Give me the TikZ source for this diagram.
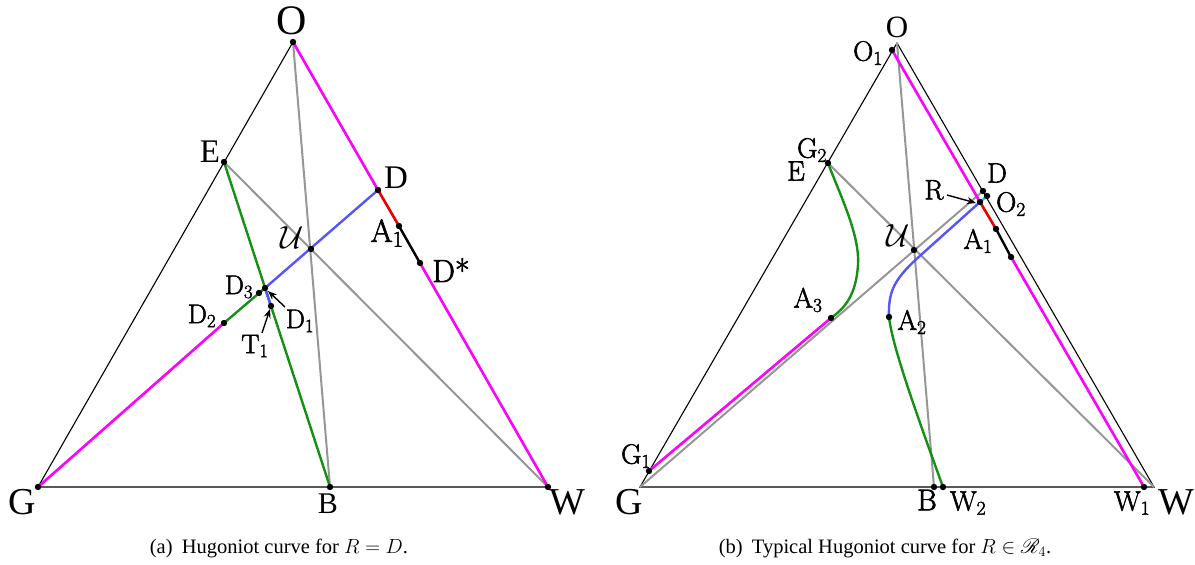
\RequirePackage{fix-cm}
\documentclass[tikz,border=0pt]{standalone}
\usepackage{amsmath,amssymb,mathrsfs}
\usepackage{fontspec}
\newfontfamily\capfont{Liberation Serif}
\newfontfamily\tmfont{Liberation Serif}
\newfontfamily\lblfont{Latin Modern Roman}[FakeBold=2]
\usetikzlibrary{arrows.meta}
\definecolor{cmag}{RGB}{255,0,255}
\definecolor{cred}{RGB}{235,0,0}
\definecolor{cblue}{RGB}{85,85,255}
\definecolor{cgreen}{RGB}{20,145,20}
\definecolor{cgray}{RGB}{150,150,150}
\definecolor{ccyan}{RGB}{0,215,225}
\tikzset{
  tri/.style={black, line width=1.1pt},
  gl/.style={cgray, line width=2pt},
  mg/.style={cmag, line width=2.6pt},
  rd/.style={cred, line width=2.6pt},
  bl/.style={cblue, line width=2.4pt},
  gn/.style={cgreen, line width=2.4pt},
  cy/.style={ccyan, line width=2.4pt},
  bk/.style={black, line width=2.4pt},
  ptr/.style={black, line width=1.4pt, -{Stealth[length=9pt,width=7pt]}},
  tbig/.style={font=\tmfont\fontsize{38}{38}\selectfont},
  tmid/.style={font=\tmfont\fontsize{33}{33}\selectfont},
  mid/.style={font=\lblfont\fontsize{32}{32}\selectfont},
  sml/.style={font=\lblfont\fontsize{27}{27}\selectfont},
  rl/.style={font=\lblfont\fontsize{28}{28}\selectfont},
  captext/.style={font=\capfont\fontsize{20.5}{22}\selectfont},
}
\newcommand{\dotat}[1]{\fill (#1) circle (3.2pt);}
\newcommand{\sbs}[1]{\textsubscript{#1}}
\begin{document}
\begin{tikzpicture}[x=1pt,y=-1pt]
\useasboundingbox (0,0) rectangle (1195,565);
% ================= left =================
\coordinate (LO) at (293,42);
\coordinate (LG) at (38,487);
\coordinate (LW) at (548,487);
\coordinate (LB) at (330,487);
\coordinate (LE) at (224,162);
\coordinate (LD) at (378,190);
\coordinate (LU) at (311,249);
\coordinate (LA1) at (399,226);
\coordinate (LDs) at (420,263);
\coordinate (LD3) at (259,293);
\coordinate (LD1) at (265,288);
\coordinate (LT1) at (271,306);
\coordinate (LD2) at (224,323);
\draw[tri] (LO) -- (LG) -- (LW) -- cycle;
\draw[gl] (LO) -- (LB);
\draw[gl] (LE) -- (LW);
\draw[gn] (LE) -- (LB);
\draw[gn] (LD2) -- (LD1);
\draw[mg] (LO) -- (LD);
\draw[mg] (LDs) -- (LW);
\draw[mg] (LG) -- (LD2);
\draw[rd] (LD) -- (LA1);
\draw[bk] (LA1) -- (LDs);
\draw[bl] (LD) -- (LD1);
\draw[bl] (LD1) -- (LT1);
\foreach \p in {LO,LG,LW,LB,LE,LD,LU,LA1,LDs,LD3,LD1,LT1,LD2} {\dotat{\p}}
\node[tbig, font=\tmfont\fontsize{42}{42}\selectfont] (tLO) at (292,21) {O};
\node[tbig] (tLG) at (22,502) {G};
\node[tbig] (tLW) at (567,502) {W};
\node[tmid, font=\tmfont\fontsize{30}{30}\selectfont] (tLB) at (328,504) {B};
\node[tmid] (tLE) at (210,152) {E};
\node[tmid] (tLD) at (396,178) {D};
\node[mid] (tLU) at (292,238) {$\mathcal{U}$};
\node[mid] (tLA1) at (387,233) {A\sbs{1}};
\node[mid] (tLDs) at (451,270) {D*};
\node[sml] (tLD3) at (239,287) {D\sbs{3}};
\node[sml] (tLD2) at (202,316) {D\sbs{2}};
\node[sml] (tLD1) at (300,321) {D\sbs{1}};
\node[sml] (tLT1) at (255,346) {T\sbs{1}};
\coordinate (aD1s) at (285,307);
\coordinate (aD1e) at (268,291);
\coordinate (aT1s) at (262,333);
\coordinate (aT1e) at (270,309);
\draw[ptr] (aD1s) -- (aD1e);
\draw[ptr] (aT1s) -- (aT1e);
\node[captext] (capa) at (279,548) {(a)\hspace{0.45em}Hugoniot curve for $R=D$.};
% ================= right =================
\coordinate (RO) at (897,43);
\coordinate (RG) at (640,487);
\coordinate (RW) at (1154,487);
\coordinate (RB) at (934,487);
\coordinate (RE) at (828,163);
\coordinate (RD) at (983,191);
\coordinate (RU) at (914,250);
\coordinate (RO1) at (892,50);
\coordinate (RO2) at (987,196);
\coordinate (RR) at (980,202);
\coordinate (RA1) at (996,229);
\coordinate (RX) at (1011,257);
\coordinate (RW1) at (1144,487);
\coordinate (RW2) at (943,487);
\coordinate (RG1) at (649,471);
\coordinate (RA3) at (831,318);
\coordinate (RA2) at (889,317);
\draw[tri] (RO) -- (RG) -- (RW) -- cycle;
\draw[gl] (RO) -- (RB);
\draw[gl] (RE) -- (RW);
\draw[gl] (RG) -- (RD);
\draw[mg] (RO1) -- (RR);
\draw[mg] (RX) -- (RW1);
\draw[mg] (RG1) -- (RA3);
\draw[rd] (RR) -- (RA1);
\draw[bk] (RA1) -- (RX);
\draw[cy] (RR) -- (RO2);
\draw[gn] (RE) .. controls (840,195) and (860,235) .. (858,265)
               .. controls (856,295) and (845,308) .. (RA3);
\draw[gn] (RA2) .. controls (892,345) and (915,410) .. (RW2);
\draw[bl] (RR) -- (922,254) .. controls (895,278) and (888,290) .. (RA2);
\foreach \p in {RB,RE,RD,RU,RO1,RO2,RR,RA1,RX,RW1,RW2,RG1,RA3,RA2} {\dotat{\p}}
\node[tmid, font=\tmfont\fontsize{31}{31}\selectfont] (tRO) at (897,27) {O};
\node[tbig] (tRG) at (629,502) {G};
\node[tbig] (tRW) at (1176,502) {W};
\node[rl, font=\lblfont\fontsize{30}{30}\selectfont] (tRB) at (927,500) {B};
\node[rl] (tRO1) at (868,53) {O\sbs{1}};
\node[rl] (tRG2) at (812,150) {G\sbs{2}};
\node[rl] (tRE) at (796,171) {E};
\node[rl] (tRD) at (997,173) {D};
\node[rl] (tRO2) at (1011,204) {O\sbs{2}};
\node[rl] (tRR) at (934,190) {R};
\node[rl] (tRA1) at (978,241) {A\sbs{1}};
\node[mid] (tRU) at (898,236) {$\mathcal{U}$};
\node[rl] (tRA2) at (912,322) {A\sbs{2}};
\node[rl] (tRA3) at (808,300) {A\sbs{3}};
\node[rl] (tRG1) at (636,456) {G\sbs{1}};
\node[rl] (tRW2) at (968,503) {W\sbs{2}};
\node[rl] (tRW1) at (1132,503) {W\sbs{1}};
\coordinate (aRs) at (947,195);
\coordinate (aRe) at (976,203);
\draw[ptr] (aRs) -- (aRe);
\node[captext] (capb) at (885,548) {(b)\hspace{0.45em}Typical Hugoniot curve for $R\in\mathscr{R}_4$.};
\end{tikzpicture}
\end{document}
